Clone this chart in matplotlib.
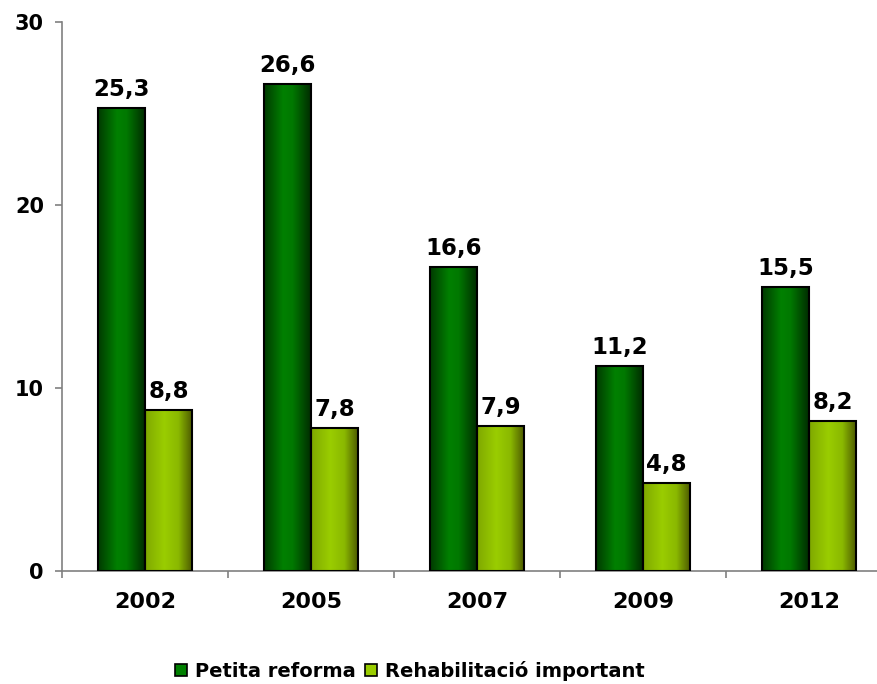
import numpy as np
import matplotlib
matplotlib.use("Agg")
import matplotlib.pyplot as plt
from matplotlib.colors import LinearSegmentedColormap
from matplotlib.patches import Patch

years = ["2002", "2005", "2007", "2009", "2012"]
petita = [25.3, 26.6, 16.6, 11.2, 15.5]
rehab = [8.8, 7.8, 7.9, 4.8, 8.2]
series_names = ["Petita reforma", "Rehabilitació important"]
yticks = [0, 10, 20, 30]

# horizontal shading of the bars (dark edges, light middle)
cmap_green = LinearSegmentedColormap.from_list(
    "g", [(0, "#003a00"), (0.4, "#008000"), (0.6, "#007800"), (1, "#002800")])
cmap_lime = LinearSegmentedColormap.from_list(
    "l", [(0, "#7fa800"), (0.4, "#9acd00"), (0.7, "#8ab800"), (1, "#4a5500")])

plt.rcParams["font.family"] = "DejaVu Sans"
plt.rcParams["font.weight"] = "bold"

fig = plt.figure(figsize=(8.78, 6.84), dpi=100)
ax = fig.add_axes([62/878, 113/684, 830/878, 549/684])

x = np.arange(len(years))
w = 0.284
b1 = ax.bar(x - w/2, petita, w, facecolor="none", edgecolor="black", linewidth=1.5, zorder=3)
b2 = ax.bar(x + w/2, rehab, w, facecolor="none", edgecolor="black", linewidth=1.5, zorder=3)

grad = np.linspace(0, 1, 256).reshape(1, -1)
for bars, cm in ((b1, cmap_green), (b2, cmap_lime)):
    for p in bars:
        im = ax.imshow(grad, cmap=cm, aspect="auto", zorder=2,
                       extent=(p.get_x(), p.get_x() + p.get_width(), 0, p.get_height()))
        im.set_clip_path(p)

for bars, vals in ((b1, petita), (b2, rehab)):
    ax.bar_label(bars, labels=[f"{v:.1f}".replace(".", ",") for v in vals],
                 padding=5, fontsize=16.5, fontweight="bold")

ax.set_xlim(-0.5, len(years) - 0.5)
ax.set_ylim(0, 30)
ax.set_yticks(yticks)
ax.set_xticks(x)
ax.set_xticklabels(years)
ax.set_xticks(np.arange(-0.5, len(years)), minor=True)

for s in ("top", "right"):
    ax.spines[s].set_visible(False)
for s in ("left", "bottom"):
    ax.spines[s].set_color("#808080")
    ax.spines[s].set_linewidth(1.2)

ax.tick_params(axis="y", length=5, color="#808080", width=1.2, pad=8, labelsize=15)
ax.tick_params(axis="x", which="major", length=0, pad=15, labelsize=16)
ax.tick_params(axis="x", which="minor", length=5, color="#808080", width=1.2)

handles = [Patch(facecolor="#008000", edgecolor="black", linewidth=1.2),
           Patch(facecolor="#9acd00", edgecolor="black", linewidth=1.2)]
fig.legend(handles, series_names, loc="center", bbox_to_anchor=(410/878, 1 - 671/684),
           ncol=2, frameon=False, fontsize=14, handlelength=0.6, handleheight=0.6,
           handletextpad=0.4, columnspacing=0.5)

fig.savefig("out.png", dpi=100)
